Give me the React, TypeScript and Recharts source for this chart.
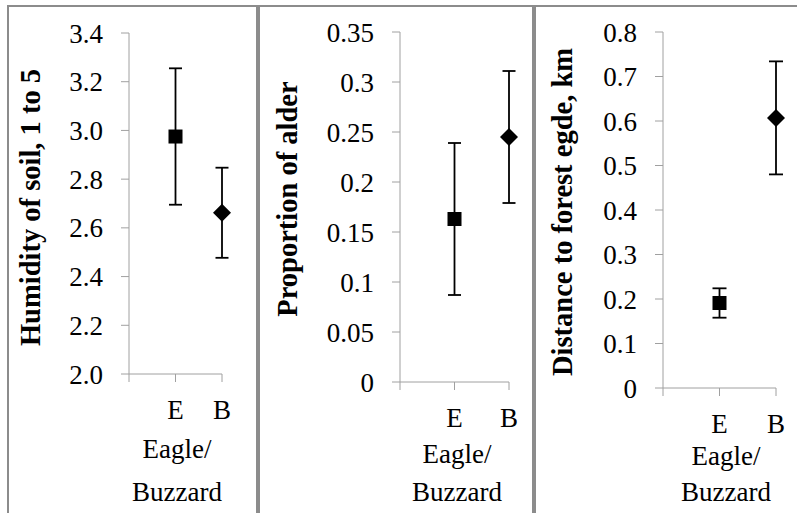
import React from 'react';
import { ScatterChart, Scatter, XAxis, YAxis, ErrorBar } from 'recharts';

const categories = ['', 'E', 'B'];
const groups = ['E', 'B'];

const humidityMean = [2.975, 2.662];
const humidityErr = [0.28, 0.185];
const humidityTicks = [2.0, 2.2, 2.4, 2.6, 2.8, 3.0, 3.2, 3.4];

const alderMean = [0.163, 0.245];
const alderErr = [0.076, 0.066];
const alderTicks = [0, 0.05, 0.1, 0.15, 0.2, 0.25, 0.3, 0.35];

const edgeMean = [0.191, 0.607];
const edgeErr = [0.033, 0.127];
const edgeTicks = [0, 0.1, 0.2, 0.3, 0.4, 0.5, 0.6, 0.7, 0.8];

const FONT = 'Liberation Serif, Tinos, Times New Roman, DejaVu Serif, serif';
const AXIS = '#a0a0a0';
const FRAME = '#8c8c8c';

const buildData = (mean: number[], err: number[]) =>
  groups.map((g, i) => ({ x: categories.indexOf(g), y: mean[i], err: err[i], group: g }));

const Marker = (props: any) => {
  const { cx, cy, payload } = props;
  if (payload.group === 'E') {
    return <rect x={cx - 7} y={cy - 7} width={14} height={14} fill="#000" />;
  }
  return (
    <polygon
      points={`${cx},${cy - 9} ${cx + 9},${cy} ${cx},${cy + 9} ${cx - 9},${cy}`}
      fill="#000"
    />
  );
};

interface PanelProps {
  left: number;
  width: number;
  top: number;
  right: number;
  axisWidth: number;
  axisHeight: number;
  ticks: number[];
  format: (v: number) => string;
  data: { x: number; y: number; err: number; group: string }[];
  title: string;
  titleX: number;
  titleShift: number;
  xTitleX: number;
  xTitleY: [number, number];
  capWidth: number;
}

const Panel: React.FC<PanelProps> = (p) => {
  const yTitle = (props: any) => {
    const vb = props.viewBox;
    const cy = vb.y + vb.height / 2 + p.titleShift;
    return (
      <text
        x={p.titleX}
        y={cy}
        transform={`rotate(-90 ${p.titleX} ${cy})`}
        textAnchor="middle"
        style={{ fontFamily: FONT, fontSize: 28.5, fontWeight: 'bold' }}
        fill="#000"
      >
        {p.title}
      </text>
    );
  };
  const xTitle = (props: any) => {
    const vb = props.viewBox;
    return (
      <text textAnchor="middle" style={{ fontFamily: FONT, fontSize: 27 }} fill="#000">
        <tspan x={p.xTitleX} y={vb.y + p.xTitleY[0]}>Eagle/</tspan>
        <tspan x={p.xTitleX} y={vb.y + p.xTitleY[1]}>Buzzard</tspan>
      </text>
    );
  };
  return (
    <div style={{ position: 'absolute', left: p.left, top: 0, fontFamily: FONT }}>
      <ScatterChart
        width={p.width}
        height={513}
        margin={{ top: p.top, right: p.right, bottom: 0, left: 0 }}
        style={{ fontFamily: FONT }}
      >
        <XAxis
          type="number"
          dataKey="x"
          domain={[0, 2]}
          ticks={[0, 1, 2]}
          interval={0}
          tickFormatter={(v: number) => categories[v]}
          height={p.axisHeight}
          tickSize={8}
          tickMargin={18}
          stroke={AXIS}
          tick={{ fill: '#000', fontSize: 27, fontFamily: FONT }}
          label={xTitle}
        />
        <YAxis
          type="number"
          dataKey="y"
          domain={[p.ticks[0], p.ticks[p.ticks.length - 1]]}
          ticks={p.ticks}
          interval={0}
          tickFormatter={p.format}
          width={p.axisWidth}
          tickSize={8}
          tickMargin={18}
          stroke={AXIS}
          tick={{ fill: '#000', fontSize: 27, fontFamily: FONT }}
          label={yTitle}
        />
        <Scatter data={p.data} shape={Marker} isAnimationActive={false}>
          <ErrorBar
            dataKey="err"
            direction="y"
            width={p.capWidth}
            stroke="#000"
            strokeWidth={1.8}
          />
        </Scatter>
      </ScatterChart>
    </div>
  );
};

export default function App() {
  return (
    <div
      style={{
        position: 'absolute',
        left: 0,
        top: 0,
        width: 797,
        height: 513,
        background: '#fff',
        overflow: 'hidden',
        fontFamily: FONT,
      }}
    >
      <Panel
        left={10}
        width={242}
        top={33}
        right={30}
        axisWidth={119}
        axisHeight={139}
        ticks={humidityTicks}
        format={(v) => v.toFixed(1)}
        data={buildData(humidityMean, humidityErr)}
        title="Humidity of soil, 1 to 5"
        titleX={30}
        titleShift={4}
        xTitleX={167}
        xTitleY={[84, 127]}
        capWidth={6.5}
      />
      <Panel
        left={261}
        width={268}
        top={32}
        right={20}
        axisWidth={139}
        axisHeight={131}
        ticks={alderTicks}
        format={(v) => String(v)}
        data={buildData(alderMean, alderErr)}
        title="Proportion of alder"
        titleX={36}
        titleShift={-8}
        xTitleX={196}
        xTitleY={[81, 119]}
        capWidth={6.5}
      />
      <Panel
        left={537}
        width={260}
        top={32}
        right={21}
        axisWidth={126}
        axisHeight={125}
        ticks={edgeTicks}
        format={(v) => String(v)}
        data={buildData(edgeMean, edgeErr)}
        title="Distance to forest egde, km"
        titleX={35}
        titleShift={2}
        xTitleX={189}
        xTitleY={[77, 113]}
        capWidth={7}
      />
      <div style={{ position: 'absolute', left: 7, top: 5, width: 790, height: 2, background: FRAME }} />
      <div style={{ position: 'absolute', left: 7, top: 5, width: 2, height: 508, background: FRAME }} />
      <div style={{ position: 'absolute', left: 256, top: 5, width: 4, height: 508, background: FRAME }} />
      <div style={{ position: 'absolute', left: 532, top: 5, width: 4, height: 508, background: FRAME }} />
    </div>
  );
}
